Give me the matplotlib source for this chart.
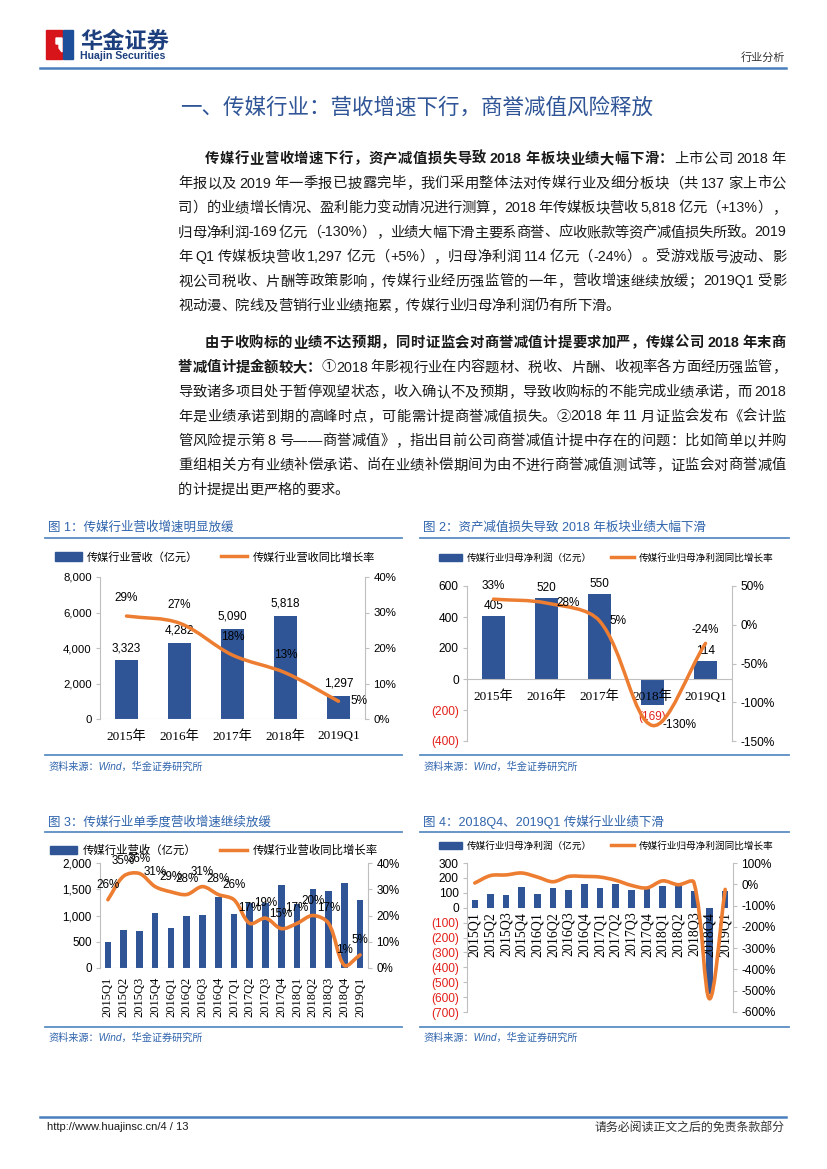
import re

import matplotlib
matplotlib.use("Agg")
import matplotlib.pyplot as plt
import numpy as np
from matplotlib.lines import Line2D
from matplotlib.patches import Patch, PathPatch, Polygon, Rectangle
from matplotlib.path import Path

plt.rcParams["axes.unicode_minus"] = False

W, H = 827, 1169
SANS = ["Liberation Sans", "Noto Sans CJK SC"]
SERIF = ["Liberation Serif", "Noto Sans CJK SC"]
CJK = ["Noto Sans CJK SC", "DejaVu Sans"]
BAR_BLUE = "#2F5597"
ORANGE = "#ED7D31"
TITLE_BLUE = "#2F64AC"
RULE_BLUE = "#5B8DC4"
GRAY = "#BFBFBF"
RED = "#E3201B"
TEXT = "#1A1A1A"

# ---- chart data -------------------------------------------------------
years = ["2015年", "2016年", "2017年", "2018年", "2019Q1"]
revenue = [3323, 4282, 5090, 5818, 1297]
revenue_growth = [0.29, 0.27, 0.18, 0.13, 0.05]
profit = [405, 520, 550, -169, 114]
profit_growth = [0.33, 0.28, 0.05, -1.30, -0.24]

quarters = ["2015Q1", "2015Q2", "2015Q3", "2015Q4", "2016Q1", "2016Q2", "2016Q3",
            "2016Q4", "2017Q1", "2017Q2", "2017Q3", "2017Q4", "2018Q1", "2018Q2",
            "2018Q3", "2018Q4", "2019Q1"]
q_revenue = [500, 720, 705, 1050, 765, 1000, 1015, 1350, 1025, 1240, 1247, 1576,
             1210, 1505, 1475, 1610, 1297]
q_revenue_growth = [0.26, 0.35, 0.36, 0.31, 0.29, 0.28, 0.31, 0.28, 0.26, 0.17,
                    0.19, 0.15, 0.17, 0.20, 0.17, 0.01, 0.05]
q_profit = [51, 91, 82, 138, 89, 131, 122, 160, 129, 158, 122, 129, 147, 151, 111,
            -578, 114]
q_profit_growth = [0.06, 0.41, 0.44, 0.53, 0.34, 0.12, 0.37, 0.37, 0.34, 0.19,
                   -0.05, -0.17, 0.16, -0.02, 0.09, -5.38, -0.24]

# ---- body text, one entry per printed line: list of (text, bold) -------
para1 = [
    [("传媒行业营收增速下行，资产减值损失导致 2018 年板块业绩大幅下滑：", True), ("上市公司 2018 年", False)],
    [("年报以及 2019 年一季报已披露完毕，我们采用整体法对传媒行业及细分板块（共 137 家上市公", False)],
    [("司）的业绩增长情况、盈利能力变动情况进行测算，2018 年传媒板块营收 5,818 亿元（+13%），", False)],
    [("归母净利润-169 亿元（-130%），业绩大幅下滑主要系商誉、应收账款等资产减值损失所致。2019", False)],
    [("年 Q1 传媒板块营收 1,297 亿元（+5%），归母净利润 114 亿元（-24%）。受游戏版号波动、影", False)],
    [("视公司税收、片酬等政策影响，传媒行业经历强监管的一年，营收增速继续放缓；2019Q1 受影", False)],
    [("视动漫、院线及营销行业业绩拖累，传媒行业归母净利润仍有所下滑。", False)],
]
para2 = [
    [("由于收购标的业绩不达预期，同时证监会对商誉减值计提要求加严，传媒公司 2018 年末商", True)],
    [("誉减值计提金额较大：", True), ("①2018 年影视行业在内容题材、税收、片酬、收视率各方面经历强监管，", False)],
    [("导致诸多项目处于暂停观望状态，收入确认不及预期，导致收购标的不能完成业绩承诺，而 2018", False)],
    [("年是业绩承诺到期的高峰时点，可能需计提商誉减值损失。②2018 年 11 月证监会发布《会计监", False)],
    [("管风险提示第 8 号——商誉减值》，指出目前公司商誉减值计提中存在的问题：比如简单以并购", False)],
    [("重组相关方有业绩补偿承诺、尚在业绩补偿期间为由不进行商誉减值测试等，证监会对商誉减值", False)],
    [("的计提提出更严格的要求。", False)],
]

fig = plt.figure(figsize=(W / 100, H / 100), dpi=100)
renderer = fig.canvas.get_renderer()


def fx(x):
    return x / W


def fy(y):
    return 1 - y / H


def hrule(x0, x1, y, color=RULE_BLUE, lw=1.2):
    fig.add_artist(Line2D([fx(x0), fx(x1)], [fy(y), fy(y)], transform=fig.transFigure,
                          color=color, lw=lw))


def axes_px(x0, y_top, x1, y_bottom):
    return fig.add_axes([fx(x0), fy(y_bottom), (x1 - x0) / W, (y_bottom - y_top) / H])


TOKEN = re.compile(r"[A-Za-z0-9.,%+\-]+| |.")


def body_line(segments, y, x0, x1, justify=True, size=10.3):
    units = []
    for text, bold in segments:
        for tok in TOKEN.findall(text):
            units.append((tok, bold))
    arts, widths = [], []
    for tok, bold in units:
        if tok == " ":
            arts.append(None)
            widths.append(2.5)
            continue
        t = fig.text(0, fy(y), tok, fontsize=size, family=SANS, color=TEXT,
                     fontweight="bold" if bold else "normal", va="baseline")
        arts.append(t)
        widths.append(t.get_window_extent(renderer).width)
    gap = 0.0
    if justify and len(units) > 1:
        gap = (x1 - x0 - sum(widths)) / (len(units) - 1)
    x = x0
    for t, w in zip(arts, widths):
        if t is not None:
            t.set_x(fx(x))
        x += w + gap


def paragraph(lines, y0, step=24.5):
    for i, segs in enumerate(lines):
        x0 = 205 if i == 0 else 178
        body_line(segs, y0 + i * step, x0, 786, justify=i < len(lines) - 1)


def smooth_curve(ax, ys, lw=2.5):
    # cubic bezier through the points, tangent lengths scaled in pixel space
    k = 1 / 3
    bb = ax.get_window_extent()
    xl, yl = ax.get_xlim(), ax.get_ylim()
    sx = bb.width / (xl[1] - xl[0])
    sy = bb.height / (yl[1] - yl[0])
    pts = np.column_stack([np.arange(len(ys)) * sx, np.asarray(ys, float) * sy])
    n = len(pts)
    verts, codes = [pts[0]], [Path.MOVETO]
    for i in range(n - 1):
        a, b = pts[i], pts[i + 1]
        pa = pts[i - 1] if i > 0 else a
        nb = pts[i + 2] if i + 2 < n else b
        d_ab = np.hypot(*(b - a))
        d_pa = np.hypot(*(a - pa))
        d_bn = np.hypot(*(nb - b))
        c1 = a + (b - pa) * k * d_ab / (d_pa + d_ab)
        c2 = b - (nb - a) * k * d_ab / (d_ab + d_bn)
        verts += [c1, c2, b]
        codes += [Path.CURVE4] * 3
    verts = np.array(verts) / [sx, sy]
    ax.add_patch(PathPatch(Path(verts, codes), fill=False, edgecolor=ORANGE, lw=lw,
                           capstyle="round", joinstyle="round", clip_on=False, zorder=3))


def style_pair(ax, ax2, size=8.2):
    for s in ["top", "bottom", "right"]:
        ax.spines[s].set_visible(False)
    for s in ["top", "bottom", "left"]:
        ax2.spines[s].set_visible(False)
    ax.spines["left"].set_color(GRAY)
    ax2.spines["right"].set_color(GRAY)
    ax.tick_params(axis="y", length=3, color=GRAY, labelsize=size, pad=3)
    ax2.tick_params(axis="y", length=3, color=GRAY, labelsize=size, pad=3)
    for lab in ax.get_yticklabels() + ax2.get_yticklabels():
        lab.set_family(SANS)
    ax.patch.set_alpha(0)


def chart_frame(x0, x1, y_title, y_rule, y_bottom, y_src, title):
    fig.text(fx(x0 + 3), fy(y_title), title, fontsize=9, family=SANS, color=TITLE_BLUE,
             va="center")
    hrule(x0, x1, y_rule, lw=1.3)
    hrule(x0, x1, y_bottom, lw=1.3)
    fig.text(fx(x0 + 3), fy(y_src), "资料来源：Wind，华金证券研究所", fontsize=7.3,
             family=SANS, color=TITLE_BLUE, style="italic", va="center")


def chart_legend(cx, cy, bar_label, line_label, size):
    handles = [Patch(color=BAR_BLUE), Line2D([], [], color=ORANGE, lw=2.5)]
    fig.legend(handles, [bar_label, line_label], loc="center", bbox_to_anchor=(fx(cx), fy(cy)),
               ncol=2, frameon=False, prop={"family": CJK, "size": size},
               handlelength=2.4, handleheight=0.75, columnspacing=2.0, handletextpad=0.5)


def neg_paren(values):
    return [f"({abs(v):,})" if v < 0 else f"{v:,}" for v in values]


# ---- header ----------------------------------------------------------
fig.add_artist(Rectangle((fx(46), fy(59)), 16 / W, 29 / H, transform=fig.transFigure,
                         color="#D7141A"))
fig.add_artist(Rectangle((fx(63), fy(59)), 10 / W, 29 / H, transform=fig.transFigure,
                         color="#1D4E9A"))
notch = [(56, 38), (62, 38), (62, 52), (59, 48), (59, 44), (56, 44)]
fig.add_artist(Polygon([(fx(x), fy(y)) for x, y in notch], closed=True,
                       transform=fig.transFigure, color="white"))
fig.text(fx(80), fy(41), "华金证券", fontsize=16, family=CJK, fontweight="bold",
         color="#1D3F7E", va="center")
fig.text(fx(80), fy(56), "Huajin Securities", fontsize=7.6, family=SANS, fontweight="bold",
         color="#1D3F7E", va="center")
fig.text(fx(785), fy(57), "行业分析", fontsize=8, family=CJK, color="#333333",
         ha="right", va="center")
hrule(40, 786, 68, color="#4A7FBD", lw=1.8)

fig.text(fx(417), fy(108), "一、传媒行业：营收增速下行，商誉减值风险释放", fontsize=15.5,
         family=CJK, color="#2F5597", ha="center", va="center")

paragraph(para1, 163)
paragraph(para2, 347)

# ---- chart 1: annual revenue ------------------------------------------
chart_frame(45, 402, 528, 538, 755, 767, "图 1：传媒行业营收增速明显放缓")
chart_legend(215, 557, "传媒行业营收（亿元）", "传媒行业营收同比增长率", 8)
ax = axes_px(100, 577, 365, 719)
ax2 = ax.twinx()
x = np.arange(len(years))
ax.bar(x, revenue, width=0.42, color=BAR_BLUE, zorder=2)
ax.set_xlim(-0.5, len(years) - 0.5)
ax.set_ylim(0, 8000)
ax.set_yticks(range(0, 8001, 2000), [f"{v:,}" for v in range(0, 8001, 2000)])
ax2.set_ylim(0, 0.4)
ax2.set_yticks(np.arange(0, 0.41, 0.1), [f"{v:.0%}" for v in np.arange(0, 0.41, 0.1)])
ax.set_xticks(x, years)
ax.tick_params(axis="x", length=0, pad=8)
for lab in ax.get_xticklabels():
    lab.set_family(SERIF)
    lab.set_fontsize(9.5)
ax.axhline(0, color=GRAY, lw=0.8)
style_pair(ax, ax2)
smooth_curve(ax2, revenue_growth)
for i, v in enumerate(revenue):
    ax.annotate(f"{v:,}", (i, v), xytext=(0, 12), textcoords="offset pixels", ha="center",
                va="center", fontsize=8.5, family=SANS)
for i, v in enumerate(revenue_growth):
    off, ha = ((12, 0), "left") if i == len(revenue_growth) - 1 else ((0, 18), "center")
    ax2.annotate(f"{v:.0%}", (i, v), xytext=off, textcoords="offset pixels", ha=ha,
                 va="center", fontsize=8.5, family=SANS, zorder=4)

# ---- chart 2: annual net profit ---------------------------------------
chart_frame(420, 789, 528, 538, 755, 767, "图 2：资产减值损失导致 2018 年板块业绩大幅下滑")
chart_legend(606, 558, "传媒行业归母净利润（亿元）", "传媒行业归母净利润同比增长率", 6.9)
ax = axes_px(467, 586, 732, 741)
ax2 = ax.twinx()
ax.bar(x, profit, width=0.42, color=BAR_BLUE, zorder=2)
ax.set_xlim(-0.5, len(years) - 0.5)
ax.set_ylim(-400, 600)
ticks = list(range(-400, 601, 200))
ax.set_yticks(ticks, neg_paren(ticks))
ax2.set_ylim(-1.5, 0.5)
r_ticks = np.arange(-1.5, 0.51, 0.5)
ax2.set_yticks(r_ticks, [f"{v:.0%}" for v in r_ticks])
ax.set_xticks([])
ax.axhline(0, color=GRAY, lw=0.8)
style_pair(ax, ax2, size=8.6)
for lab, v in zip(ax.get_yticklabels(), ticks):
    if v < 0:
        lab.set_color(RED)
for i, lab in enumerate(years):
    ax.annotate(lab, (i, 0), xytext=(0, -18), textcoords="offset pixels", ha="center",
                va="center", fontsize=9.5, family=SERIF, zorder=5)
smooth_curve(ax2, profit_growth)
for i, v in enumerate(profit):
    if v < 0:
        ax.annotate(f"({abs(v)})", (i, v), xytext=(0, -12), textcoords="offset pixels",
                    ha="center", va="center", fontsize=8.5, family=SANS, color=RED)
    else:
        ax.annotate(f"{v}", (i, v), xytext=(0, 10), textcoords="offset pixels",
                    ha="center", va="center", fontsize=8.5, family=SANS)
placement = ["above", "right", "right", "right", "above"]
for i, (v, where) in enumerate(zip(profit_growth, placement)):
    off, ha = ((0, 13), "center") if where == "above" else ((10, 0), "left")
    ax2.annotate(f"{v:.0%}", (i, v), xytext=off, textcoords="offset pixels", ha=ha,
                 va="center", fontsize=8.5, family=SANS, zorder=4)

# ---- chart 3: quarterly revenue ---------------------------------------
chart_frame(45, 402, 822, 832, 1027, 1038, "图 3：传媒行业单季度营收增速继续放缓")
chart_legend(214, 850, "传媒行业营收（亿元）", "传媒行业营收同比增长率", 8.2)
ax = axes_px(100, 863, 368, 968)
ax2 = ax.twinx()
xq = np.arange(len(quarters))
ax.bar(xq, q_revenue, width=0.42, color=BAR_BLUE, zorder=2)
ax.set_xlim(-0.5, len(quarters) - 0.5)
ax.set_ylim(0, 2000)
ax.set_yticks(range(0, 2001, 500), [f"{v:,}" for v in range(0, 2001, 500)])
ax2.set_ylim(0, 0.4)
ax2.set_yticks(np.arange(0, 0.41, 0.1), [f"{v:.0%}" for v in np.arange(0, 0.41, 0.1)])
ax.set_xticks(xq, quarters, rotation=90)
ax.tick_params(axis="x", length=0, pad=6)
for lab in ax.get_xticklabels():
    lab.set_family(SERIF)
    lab.set_fontsize(9)
ax.axhline(0, color=GRAY, lw=0.8)
style_pair(ax, ax2, size=8.4)
smooth_curve(ax2, q_revenue_growth, lw=2.6)
for i, v in enumerate(q_revenue_growth):
    ax2.annotate(f"{v:.0%}", (i, v), xytext=(0, 15), textcoords="offset pixels",
                 ha="center", va="center", fontsize=8.4, family=SANS, zorder=4)

# ---- chart 4: quarterly net profit ------------------------------------
chart_frame(420, 789, 822, 832, 1027, 1038, "图 4：2018Q4、2019Q1 传媒行业业绩下滑")
chart_legend(606, 846, "传媒行业归母净利润（亿元）", "传媒行业归母净利润同比增长率", 6.9)
ax = axes_px(467, 863, 733, 1012)
ax2 = ax.twinx()
ax.bar(xq, q_profit, width=0.42, color=BAR_BLUE, zorder=2)
ax.set_xlim(-0.5, len(quarters) - 0.5)
ax.set_ylim(-700, 300)
ticks = list(range(-700, 301, 100))
ax.set_yticks(ticks, neg_paren(ticks))
ax2.set_ylim(-6, 1)
r_ticks = np.arange(-6, 1.01, 1)
ax2.set_yticks(r_ticks, [f"{v:.0%}" for v in r_ticks])
ax.set_xticks([])
style_pair(ax, ax2, size=8.6)
for lab, v in zip(ax.get_yticklabels(), ticks):
    if v < 0:
        lab.set_color(RED)
for i, lab in enumerate(quarters):
    ax.annotate(lab, (i, 0), xytext=(0, -4), textcoords="offset pixels", ha="center",
                va="top", rotation=90, fontsize=10, family=SERIF, zorder=5)
smooth_curve(ax2, q_profit_growth, lw=2.6)

# ---- footer ----------------------------------------------------------
hrule(40, 786, 1117, color="#4A7FBD", lw=1.8)
fig.text(fx(47), fy(1127), "http://www.huajinsc.cn/4 / 13", fontsize=8, family=SANS,
         color=TEXT, va="center")
fig.text(fx(785), fy(1127), "请务必阅读正文之后的免责条款部分", fontsize=8.6, family=CJK,
         color="#333333", ha="right", va="center")

fig.savefig("out.png", dpi=100)
